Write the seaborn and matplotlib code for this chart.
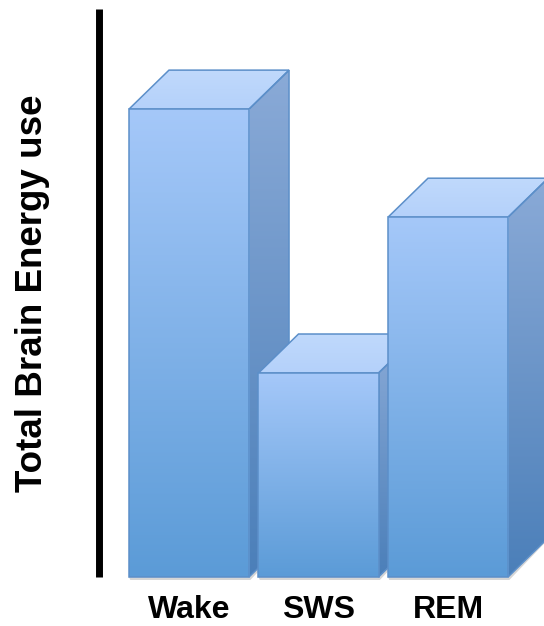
import numpy as np
import pandas as pd
import seaborn as sns
import matplotlib
matplotlib.use("Agg")
import matplotlib.pyplot as plt
from matplotlib.colors import LinearSegmentedColormap
from matplotlib.patches import Polygon

# ---- data ----
stages = ["Wake", "SWS", "REM"]
energy = [100.0, 43.6, 76.9]
y_label = "Total Brain Energy use"

# ---- style ----
sns.set_theme(style="white")
plt.rcParams["font.family"] = ["Liberation Sans", "DejaVu Sans"]

W, H, DPI = 544, 626, 100
fig = plt.figure(figsize=(W / DPI, H / DPI), dpi=DPI)
ax_left, ax_bottom, ax_top = 99, 49, 617  # pixels from figure left / bottom
ax = fig.add_axes([ax_left / W, ax_bottom / H, (W - ax_left) / W, (ax_top - ax_bottom) / H])

df = pd.DataFrame({"stage": stages, "energy": energy})
sns.barplot(data=df, x="stage", y="energy", color="#7fb0ea", width=0.927,
            ax=ax, saturation=1)

ax.set_xlim(-0.695, 2.741)
ax.set_ylim(0, 121.4)

# 3D depth offset in pixels -> data units
depth_px = (40, 39)
inv = ax.transData.inverted()
o = inv.transform((0, 0))
d = inv.transform(depth_px)
ddx, ddy = d[0] - o[0], d[1] - o[1]

front_cmap = LinearSegmentedColormap.from_list("front", ["#a5c8f9", "#5b9bd7"])
side_cmap = LinearSegmentedColormap.from_list("side", ["#8aaad7", "#4b7fb9"])
top_cmap = LinearSegmentedColormap.from_list("top", ["#c0d9fc", "#b4d1fa"])
edge = "#5c8fc9"
lw = 1.1
grad = np.linspace(0, 1, 256).reshape(-1, 1)

for i, p in enumerate(list(ax.patches)):
    x0, y0 = p.get_x(), p.get_y()
    w, h = p.get_width(), p.get_height()
    x1, y1 = x0 + w, y0 + h
    z = 2 + 4 * i

    # soft shadow under bar
    sh = inv.transform((0, 3))[1] - o[1]
    shadow = Polygon([(x0 + 0.01, y0 - sh), (x1 + 0.01, y0 - sh),
                      (x1 + ddx, y0 + ddy - sh * 0.5), (x1 + ddx, y0 + ddy), (x1, y0), (x0, y0)],
                     closed=True, facecolor="#d6d6d6",
                     edgecolor="none", zorder=z - 0.5, clip_on=False)
    ax.add_patch(shadow)

    # side face
    side = Polygon([(x1, y0), (x1 + ddx, y0 + ddy), (x1 + ddx, y1 + ddy), (x1, y1)],
                   closed=True, facecolor="none", edgecolor=edge, lw=lw,
                   zorder=z + 0.5, clip_on=False)
    ax.add_patch(side)
    im = ax.imshow(side_cmap(grad), extent=(x1, x1 + ddx, y0, y1 + ddy),
                   aspect="auto", origin="upper", zorder=z)
    im.set_clip_path(side)

    # top face
    top = Polygon([(x0, y1), (x0 + ddx, y1 + ddy), (x1 + ddx, y1 + ddy), (x1, y1)],
                  closed=True, facecolor="none", edgecolor=edge, lw=lw,
                  zorder=z + 0.5, clip_on=False)
    ax.add_patch(top)
    imt = ax.imshow(top_cmap(grad), extent=(x0, x1 + ddx, y1, y1 + ddy),
                    aspect="auto", origin="upper", zorder=z)
    imt.set_clip_path(top)

    # front face (seaborn bar) with gradient
    p.set_facecolor("none")
    p.set_edgecolor(edge)
    p.set_linewidth(lw)
    p.set_zorder(z + 2)
    p.set_clip_on(False)
    imf = ax.imshow(front_cmap(grad), extent=(x0, x1, y0, y1),
                    aspect="auto", origin="upper", zorder=z + 1)
    imf.set_clip_path(p)

ax.set_xlim(-0.695, 2.741)
ax.set_ylim(0, 121.4)

# axes styling
for s in ["top", "right", "bottom"]:
    ax.spines[s].set_visible(False)
ax.spines["left"].set_color("black")
ax.spines["left"].set_linewidth(5.0)
ax.spines["left"].set_capstyle("butt")
ax.set_yticks([])
ax.tick_params(axis="x", length=0, pad=13)
ax.set_xlabel("")
for lab in ax.get_xticklabels():
    lab.set_fontsize(23)
    lab.set_fontweight("bold")
    lab.set_color("black")

ax.set_ylabel(y_label, fontsize=26.5, fontweight="bold", color="black",
              rotation=90, rotation_mode="anchor", va="baseline", ha="center")
ax.yaxis.set_label_coords((42 - ax_left) / (W - ax_left), 0.5)

fig.patch.set_facecolor("white")
ax.set_facecolor("white")
fig.savefig("out.png", dpi=DPI)
